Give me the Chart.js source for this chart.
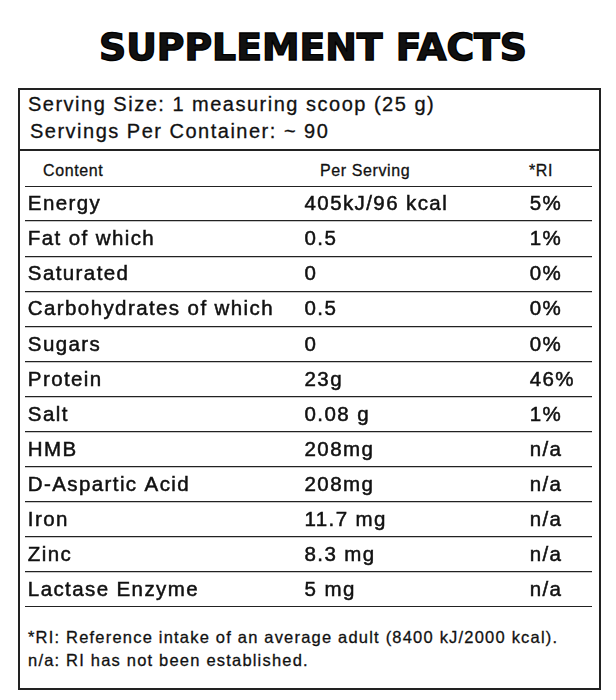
<!DOCTYPE html>
<html>
<head>
<meta charset="utf-8">
<script src="https://cdn.jsdelivr.net/npm/chart.js@4"></script>
<style>
  body { margin: 0; background: #fff; font-family: "Liberation Sans", Arial, sans-serif; color: #111; }
  #page { position: relative; width: 616px; height: 700px; }
  .title { position: absolute; left: 5px; width: 616px; top: 26px; text-align: center;
           font-family: "DejaVu Sans", sans-serif; font-weight: 900; font-size: 37px;
           transform: scaleX(1.02); -webkit-text-stroke: 1.4px #000; }
  .box { position: absolute; left: 18px; top: 88px; width: 579px; height: 598px; border: 2px solid #222; }
  .t { position: absolute; white-space: nowrap; -webkit-text-stroke: 0.3px #111; }
  #wrap { position: absolute; left: 25px; top: 186px; width: 567px; height: 421px; }
</style>
</head>
<body>
<div id="page">
  <div class="title">SUPPLEMENT FACTS</div>
  <div class="box"></div>
  <div class="t" style="left:28px;top:93px;font-size:20px;letter-spacing:1.5px">Serving Size: 1 measuring scoop (25 g)</div>
  <div class="t" style="left:30px;top:120px;font-size:20px;letter-spacing:1.5px">Servings Per Container: ~ 90</div>
  <div style="position:absolute;left:18px;top:149px;width:582px;height:2px;background:#222"></div>
  <div class="t" style="left:43px;top:162px;font-size:16px;letter-spacing:0.6px">Content</div>
  <div class="t" style="left:320px;top:162px;font-size:16px;letter-spacing:0.6px">Per Serving</div>
  <div class="t" style="left:529px;top:162px;font-size:16px;letter-spacing:0.6px">*RI</div>
  <div class="t" style="left:28px;top:628px;font-size:16.5px;letter-spacing:1.2px">*RI: Reference intake of an average adult (8400 kJ/2000 kcal).</div>
  <div class="t" style="left:28px;top:651px;font-size:16.5px;letter-spacing:1.2px">n/a: RI has not been established.</div>
  <div id="wrap"><canvas id="chart"></canvas></div>
</div>
<script>
// valores da tabela
const nutrients = ['Energy', 'Fat of which', 'Saturated', 'Carbohydrates of which', 'Sugars', 'Protein',
                   'Salt', 'HMB', 'D-Aspartic Acid', 'Iron', 'Zinc', 'Lactase Enzyme'];
const perServing = ['405kJ/96 kcal', '0.5', '0', '0.5', '0', '23g', '0.08 g', '208mg', '208mg',
                    '11.7 mg', '8.3 mg', '5 mg'];
const riValues = ['5%', '1%', '0%', '0%', '0%', '46%', '1%', 'n/a', 'n/a', 'n/a', 'n/a', 'n/a'];

// plugin que escreve as colunas na posição de cada categoria
const tableText = {
    id: 'tableText',
    afterDatasetsDraw(chart) {
        const c = chart.ctx;
        const y = chart.scales.y;
        const x = chart.scales.x;
        c.save();
        c.fillStyle = '#111';
        c.strokeStyle = '#111';
        c.lineWidth = 0.5;
        c.font = '20.5px "Liberation Sans", Arial, sans-serif';
        c.letterSpacing = '1.4px';
        c.textBaseline = 'middle';
        c.textAlign = 'left';
        nutrients.forEach((name, i) => {
            const py = y.getPixelForValue(i) + 1;
            const cols = [[name, 0.005], [perServing[i], 0.493], [riValues[i], 0.89]];
            cols.forEach(([txt, pos]) => {
                c.fillText(txt, x.getPixelForValue(pos), py);
                c.strokeText(txt, x.getPixelForValue(pos), py);
            });
        });
        c.restore();
    }
};

new Chart(document.getElementById('chart').getContext('2d'), {
    type: 'bar',
    data: {
        labels: nutrients,
        datasets: [{ data: nutrients.map(() => 0), backgroundColor: 'transparent' }]
    },
    options: {
        responsive: true,
        maintainAspectRatio: false,
        animation: false,
        indexAxis: 'y',
        layout: { padding: 0 },
        plugins: { legend: { display: false }, tooltip: { enabled: false } },
        scales: {
            x: { display: false, min: 0, max: 1 },
            y: {
                display: true,
                offset: true,
                ticks: { display: false },
                border: { display: false },
                afterFit(s) { s.width = 0; },
                grid: {
                    offset: true,
                    drawTicks: false,
                    color: '#222',
                    lineWidth: ctx => (ctx.index === 0 || ctx.index === nutrients.length) ? 2 : 1.2
                }
            }
        }
    },
    plugins: [tableText]
});
</script>
</body>
</html>
